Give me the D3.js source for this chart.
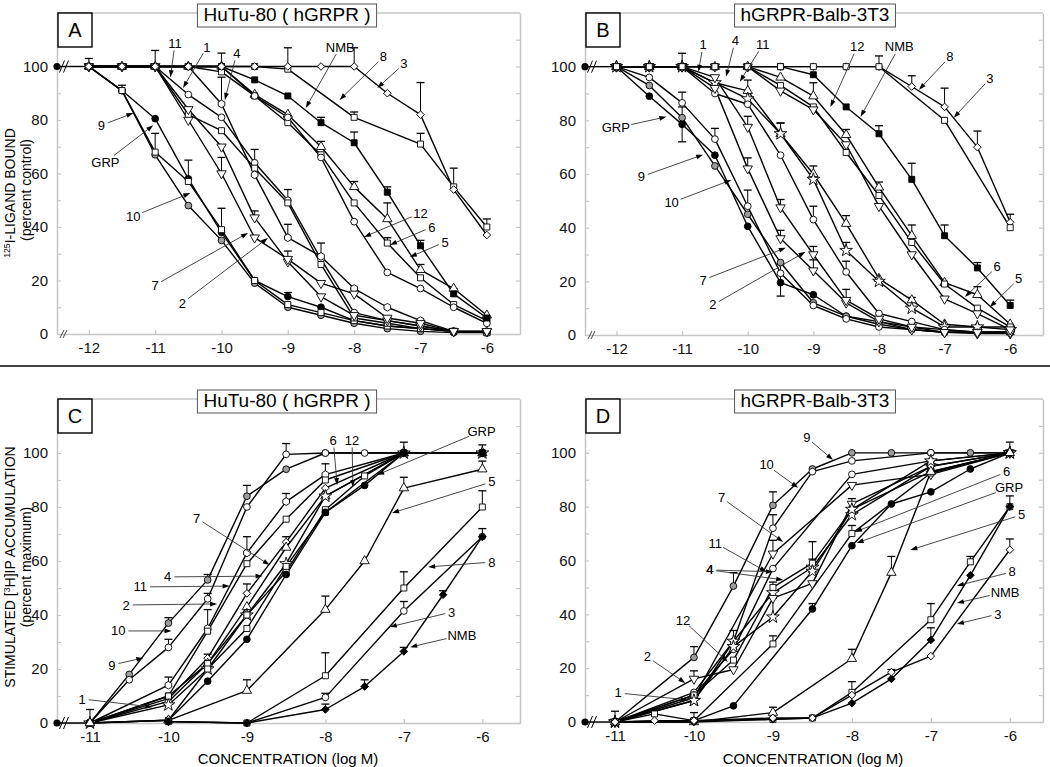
<!DOCTYPE html>
<html>
<head>
<meta charset="utf-8">
<script src="https://cdn.jsdelivr.net/npm/d3@7/dist/d3.min.js"></script>
<style>
html,body{margin:0;padding:0;background:#fff;}
svg{display:block;}
</style>
</head>
<body>
<svg id="chart" width="1050" height="767"></svg>
<script>
// ---------------- DATA ----------------
const concBinding = [-12,-11.5,-11,-10.5,-10,-9.5,-9,-8.5,-8,-7.5,-7,-6.5,-6];
const concIP = [-11,-10.5,-10,-9.5,-9,-8.5,-8,-7.5,-7,-6.5,-6];
const xTicksBinding = [-12,-11,-10,-9,-8,-7,-6];
const xTicksIP = [-11,-10,-9,-8,-7,-6];
const yTickLabels = [0,20,40,60,80,100];
const controlBinding = 100;
const controlIP = 0;

// Panel A : HuTu-80 binding
const namesA = ["GRP","9","10","1","11","4","2","7","12","6","5","NMB","8","3"];
const valuesA = [
 [100,91,80.5,58,38,20,14,10,5,3,2,1,1],
 [100,91,67,48,35,19,10,7,4,2,1,0.5,0.5],
 [100,91,68,57,39,20,11,8,5,3,2,1,0.5],
 [100,100,100,89.5,81,64,50,28,8,5,3,1,0.5],
 [100,100,100,82,76,62,49,26,6,4,2,1,0.5],
 [100,100,100,100,86,59.5,36,29,17,10,5,1,1],
 [100,100,100,84,70,43.5,27,14,7,5,3,1,1],
 [100,100,100,80,60,36,28,19,15,6,4,1,1],
 [100,100,100,100,100,89.5,82,70,55,43,24,17,7],
 [100,100,100,100,98,89,79,67,49,34,21,11,5],
 [100,100,100,100,100,89,81,66,42,23,17,10,4],
 [100,100,100,100,100,95,89,79,71.5,53,33,15,6],
 [100,100,100,100,100,100,99,null,81,null,71,55,40],
 [100,100,100,100,100,100,100,100,100,90,82,54,37]
];
const errorsA = [
 ["GRP",-12,3],["9",-11.5,2],["11",-11,6],["9",-11,8],["10",-10.5,8],["4",-10,10],["NMB",-10,5],["10",-10,8],["7",-10,6],
 ["1",-9.5,5],["2",-9.5,2.5],["1",-9,4],["4",-9,5],["7",-9,3],["GRP",-9,1.5],["3",-9,7],["4",-8.5,5],["12",-8.5,2],["NMB",-8.5,2],
 ["3",-8,7],["8",-8,2],["12",-8,2],["NMB",-8,4],["7",-8,2],["12",-7.5,6],["NMB",-7.5,2],["6",-7.5,2],["3",-7,12],["8",-7,4],
 ["NMB",-7,2],["12",-7,2],["8",-6.5,7],["NMB",-6.5,2],["8",-6,3]
];
const labelsA = [
 ["11",-10.70,108.8,-10.77,96],["1",-10.22,107.3,-10.58,92],["4",-9.77,105,-9.95,87.5],
 ["NMB",-8.21,107.3,-8.73,84.5],["8",-7.56,103.6,-8.22,87.5],["3",-7.25,101,-7.65,92],
 ["9",-11.81,78,-11.33,82.6],["GRP",-11.75,64.3,-11.03,78],["10",-11.33,44,-10.47,52.7],
 ["7",-11.0,18.3,-9.6,37.8],["2",-10.59,11.6,-9.3,35.9],["12",-7.0,45.2,-7.85,36.3],
 ["6",-6.83,40,-7.46,33.3],["5",-6.63,34.4,-7.16,28.8]
];

// Panel B : hGRPR-Balb-3T3 binding
const namesB = ["GRP","9","10","1","4","11","7","2","12","6","5","NMB","3","8"];
const valuesB = [
 [100,89,78.5,67,40.5,19.5,15,7,5,3,2,1,1],
 [100,93,81,63,45,27,12,7,4,2,1,1,1],
 [100,96,86.5,73,48,23,11,6,3,2,1,1,1],
 [100,100,100,94,91,75,60,41.5,21,13,4,3,3],
 [100,100,100,94,88,75,58,31.5,20,10,3,3,2],
 [100,100,100,90,86,67,43,23.5,8,5,2,1,1],
 [100,100,100,92,62,36,24,12,5,2,1,0.5,0.5],
 [100,100,100,96,77.5,47.5,30,13,6,3,1,1,1],
 [100,100,100,100,100,96,89,74.6,55,37,19.5,15,4],
 [100,100,100,100,100,93,85,68,52,34.5,19,10,3],
 [100,100,100,100,100,91,84,71,48,30,13.5,8,2],
 [100,100,100,100,100,100,97,85,75,58,37,25,11],
 [100,100,100,100,100,100,100,100,100,92.6,85,70,42],
 [100,100,100,100,100,100,100,100,100,null,80,null,40]
];
const errorsB = [
 ["10",-11,4],["GRP",-11,6.5,6.5],["1",-11,5],["10",-10.5,4],["10",-10,6],["2",-10,4],["7",-10,4],["1",-10,4],
 ["1",-9.5,4],["4",-9.5,4],["2",-9.5,3],["7",-9.5,3],["GRP",-9.5,7,5],["1",-9,3],["11",-9,5],["2",-9,3],["7",-9,4],
 ["12",-9,5],["12",-8.5,2],["1",-8.5,3],["4",-8.5,3],["11",-8.5,4],["7",-8.5,5],["12",-8,2],["NMB",-8,3],["3",-8,4],
 ["NMB",-7.5,6],["12",-7.5,4],["4",-7.5,4],["3",-7.5,4],["NMB",-7,4],["3",-7,7],["3",-6.5,6],["NMB",-6.5,2],
 ["12",-6.5,3],["3",-6,3],["NMB",-6,2]
];
const labelsB = [
 ["1",-10.68,108.2,-10.75,98.1],["4",-10.19,109.7,-10.33,96.3],["11",-9.77,108.2,-10.12,94.4],
 ["12",-8.33,107.5,-8.74,85],["NMB",-7.69,107.5,-8.28,81.3],["8",-6.92,103.7,-7.39,91.4],
 ["3",-6.31,95.5,-6.86,81],["GRP",-12.01,77.2,-11.24,81.3],["9",-11.62,59,-10.68,67.2],
 ["10",-11.16,49.3,-10.25,57.8],["7",-10.68,20.5,-9.42,32.5],["2",-10.53,11.2,-9.12,31],
 ["6",-6.2,25.4,-6.69,14.2],["5",-5.87,20.9,-6.31,10.4]
];

// Panel C : HuTu-80 IP accumulation
const namesC = ["9","10","2","11","4","7","1","12","6","GRP","5","8","3","NMB"];
const valuesC = [
 [0,18,37,53,84,94,100,null,100,null,100],
 [0,16,28,46,80,99.5,100,100,100,null,100],
 [0,null,14,35,63,82,92,null,100,null,100],
 [0,null,10,34,59,75.5,90,null,100,null,100],
 [0,null,9,24,48,67,87,null,100,null,100],
 [0,null,8,22,43,65,84,null,100,null,100],
 [0,null,6.7,20,40,59,84,null,100,null,100],
 [0,null,10,22,40,56,79,91.5,100,null,100],
 [0,null,1,20,35,58,78,null,100,null,100],
 [0,null,1,15.5,31,55,78,88,100,null,100],
 [0,null,1,null,12,null,42,60,87,null,94],
 [null,null,0.5,null,0,null,17.5,null,50,null,80],
 [null,null,0.5,null,0,null,9.5,null,41.5,null,69],
 [null,null,0.5,null,0,null,5,13.5,26.5,47.5,69]
];
const errorsC = [
 ["1",-11,5],["9",-10,2],["10",-10,3],["2",-10,3],["9",-9.5,2],["10",-9.5,2],["2",-9.5,7],["4",-9.5,1.5],["9",-9,4],
 ["2",-9,6],["4",-9,3.5],["5",-9,4],["10",-8.5,4],["2",-8.5,3],["4",-8.5,2],["2",-8,4],["5",-8,5],["8",-8,8.5],["3",-8,1.5],
 ["NMB",-8,2],["NMB",-7.5,2.5],["9",-7,4],["5",-7,4],["8",-7,6],["3",-7,3.5],["NMB",-7,1.5],["NMB",-6.5,1.5],["9",-6,3],
 ["5",-6,3],["8",-6,6],["3",-6,3]
];
const labelsC = [
 ["6",-7.90,104.8,-7.85,88.1],["12",-7.66,104.8,-7.65,87.4],["GRP",-6.01,108.1,-7.34,91.9],
 ["5",-5.88,89.3,-7.15,77.8],["8",-5.88,59.6,-6.69,57.8],["3",-6.39,41.1,-7.18,35.6],
 ["NMB",-6.26,32.6,-6.92,28.1],["7",-9.64,75.9,-8.71,58.5],["4",-10.01,54.1,-8.80,54.4],
 ["11",-10.36,50.4,-9.22,50.7],["2",-10.54,43.7,-9.38,44.1],["10",-10.64,34.1,-9.96,34.1],
 ["9",-10.72,21.5,-10.32,24.1],["1",-11.10,8.9,-10.20,5.9]
];

// Panel D : hGRPR-Balb-3T3 IP accumulation
const namesD = ["9","10","7","11","4","12","2","1","6","GRP","5","8","NMB","3"];
const valuesD = [
 [0,null,24,50.5,80.5,94,100,100,100,100,100],
 [0,null,11,30,72,93,97,null,100,null,100],
 [0,null,9,null,62.5,null,88,null,92,null,100],
 [0,null,10,27,57,null,92,null,97,null,100],
 [0,null,8,30,48,57.5,77,null,95,null,100],
 [0,null,10,23,50,59,79,null,93,null,100],
 [0,null,16,19.5,46,51.5,81,null,95,null,100],
 [0,null,8,28,39,56,79,null,97,null,100],
 [0,null,0.5,null,29,null,70,null,92.5,null,100],
 [0,null,0.5,6,null,42,65.5,81,85.5,94,100],
 [0,null,0,null,3.5,null,23.5,55.5,93,null,100],
 [0,3,0.5,null,1,1.5,11,null,38,59.5,80],
 [0,null,0,null,1,1.5,7,16,30.5,54.5,80],
 [0,0.5,0.5,null,1.5,1.5,10,18.5,24.5,null,64]
];
const errorsD = [
 ["9",-11,4],["8",-10.5,2],["9",-10,4],["2",-10,3],["6",-10,3],["9",-9.5,5],["4",-9.5,4],["9",-9,5],["10",-9,5],["7",-9,5],
 ["12",-9,2],["1",-9,7],["6",-9,3],["5",-9,2],["12",-8.5,8],["4",-8.5,3],["GRP",-8.5,2],["2",-8,2],["6",-8,3],["5",-8,3.5],
 ["8",-8,4],["5",-7.5,6],["3",-7.5,1],["8",-7,6],["NMB",-7,4.5],["7",-7,3],["8",-6.5,2],["9",-6,4],["8",-6,4],["3",-6,4]
];
const labelsD = [
 ["9",-8.57,105.6,-8.24,97.4],["10",-9.08,95.5,-8.68,87],["7",-9.65,83.3,-8.87,66.9],
 ["11",-9.73,66.5,-9.08,55.8],["4",-9.80,56.5,-9.0,55.8],["4",-9.80,56.5,-8.87,52.8],
 ["12",-10.14,37.9,-9.57,22.3],["2",-10.59,24.2,-10.11,14.5],["1",-10.96,10.8,-10.08,8.2],
 ["6",-6.04,92.9,-7.96,70.6],["GRP",-6.01,87,-7.94,66.5],["5",-5.85,77,-7.26,63.9],
 ["8",-5.97,55.8,-6.67,50.6],["NMB",-6.06,48.3,-6.67,44.2],["3",-6.15,40.1,-6.67,36.4]
];

// ---------------- STYLE (marker shapes / fills) ----------------
const shapesA = ["circle","circle","square","circle","square","hex","tridown","tridown","triangle","square","circle","square","square","diamond"];
const fillsA  = ["k","g","w","w","w","w","w","w","w","w","w","k","w","w"];
const shapesB = ["circle","circle","circle","triangle","star","circle","tridown","tridown","triangle","square","tridown","square","diamond","square"];
const fillsB  = ["k","g","w","w","w","w","w","w","w","w","w","k","w","w"];
const shapesC = ["circle","circle","hex","square","diamond","triangle","star","square","square","circle","triangle","square","circle","diamond"];
const fillsC  = ["g","w","w","w","w","w","w","w","w","k","w","w","w","k"];
const shapesD = ["circle","circle","tridown","circle","star","square","tridown","star","square","circle","triangle","square","diamond","diamond"];
const fillsD  = ["g","w","w","w","w","w","w","w","w","k","w","w","k","w"];

// ---------------- DRAW ----------------
const FONT = '"Liberation Sans", Arial, Helvetica, sans-serif';
const GREY = '#c6c6c6';
const FILL = {k:'#000', g:'#9c9c9c', w:'#fff'};
const svg = d3.select('#chart');
svg.append('rect').attr('width',1050).attr('height',767).attr('fill','#fff');

const hexSymbol = {draw(ctx,size){const r=Math.sqrt(size/2.598);for(let i=0;i<6;i++){const a=Math.PI/3*i+Math.PI/6;const px=r*Math.cos(a),py=r*Math.sin(a);if(i)ctx.lineTo(px,py);else ctx.moveTo(px,py);}ctx.closePath();}};
const SYM = {
  circle:[d3.symbolCircle,36,0], square:[d3.symbolSquare,36,0], triangle:[d3.symbolTriangle,38,0],
  tridown:[d3.symbolTriangle,38,180], diamond:[d3.symbolSquare,29,45], star:[d3.symbolStar,50,0], hex:[hexSymbol,38,0]
};

const panels = [
 {letter:'A', title:'HuTu-80 ( hGRPR )', x0:57, x1:520, y0:334, y1:13, xDomain:[-12.48,-5.5], conc:concBinding, xTicks:xTicksBinding,
  names:namesA, values:valuesA, shapes:shapesA, fills:fillsA, errors:errorsA, labels:labelsA, control:controlBinding},
 {letter:'B', title:'hGRPR-Balb-3T3', x0:585, x1:1043, y0:335, y1:13, xDomain:[-12.48,-5.5], conc:concBinding, xTicks:xTicksBinding,
  names:namesB, values:valuesB, shapes:shapesB, fills:fillsB, errors:errorsB, labels:labelsB, control:controlBinding},
 {letter:'C', title:'HuTu-80 ( hGRPR )', x0:57, x1:520, y0:723, y1:399, xDomain:[-11.42,-5.52], conc:concIP, xTicks:xTicksIP,
  names:namesC, values:valuesC, shapes:shapesC, fills:fillsC, errors:errorsC, labels:labelsC, control:controlIP},
 {letter:'D', title:'hGRPR-Balb-3T3', x0:585, x1:1043, y0:722, y1:399, xDomain:[-11.38,-5.58], conc:concIP, xTicks:xTicksIP,
  names:namesD, values:valuesD, shapes:shapesD, fills:fillsD, errors:errorsD, labels:labelsD, control:controlIP}
];

function styleAxis(sel){
  sel.select('.domain').attr('stroke',GREY).attr('stroke-width',1.5);
  sel.selectAll('.tick line').attr('stroke',GREY).attr('stroke-width',1.2);
  sel.selectAll('text').attr('font-family',FONT).attr('font-size',15).attr('fill','#111');
}

panels.forEach(p=>{
  const g = svg.append('g');
  const x = d3.scaleLinear().domain(p.xDomain).range([p.x0,p.x1]);
  const y = d3.scaleLinear().domain([0,120]).range([p.y0,p.y1]);

  g.append('line').attr('x1',p.x0).attr('x2',p.x1).attr('y1',p.y1).attr('y2',p.y1).attr('stroke',GREY).attr('stroke-width',1.5);
  const gl = g.append('g').attr('transform',`translate(${p.x0},0)`)
    .call(d3.axisLeft(y).tickValues(d3.range(0,111,10)).tickSizeInner(-4).tickSizeOuter(0).tickPadding(9)
      .tickFormat(v=> yTickLabels.includes(v) ? v : ''));
  styleAxis(gl);
  const gr = g.append('g').attr('transform',`translate(${p.x1},0)`)
    .call(d3.axisRight(y).tickValues(d3.range(0,111,10)).tickSizeInner(-4).tickSizeOuter(0).tickFormat(''));
  styleAxis(gr);
  const gb = g.append('g').attr('transform',`translate(0,${p.y0})`)
    .call(d3.axisBottom(x).tickValues(p.xTicks).tickSizeInner(-4).tickSizeOuter(0).tickPadding(8).tickFormat(d3.format('d')));
  styleAxis(gb);
  gb.selectAll('text').text(d=> String(d));

  g.append('line').attr('x1',p.x0).attr('x2',x(p.conc[0])).attr('y1',y(p.control)).attr('y2',y(p.control))
    .attr('stroke','#000').attr('stroke-width',1.4);

  const line = d3.line().x(d=>x(d[0])).y(d=>y(d[1]));
  const seriesPts = p.values.map(vals => p.conc.map((c,i)=>[c,vals[i]]));
  seriesPts.forEach(pts=>{
    const clean = pts.filter(d=>d[1]!=null);
    g.append('path').attr('d',line(clean)).attr('fill','none').attr('stroke','#000').attr('stroke-width',1.4).attr('stroke-linejoin','round');
  });
  p.errors.forEach(e=>{
    const si = p.names.indexOf(e[0]); const ci = p.conc.indexOf(e[1]);
    if(si<0||ci<0) return; const v = p.values[si][ci]; if(v==null) return;
    const cx = x(e[1]);
    const top = y(v+e[2]);
    g.append('line').attr('x1',cx).attr('x2',cx).attr('y1',y(v)).attr('y2',top).attr('stroke','#000').attr('stroke-width',1);
    g.append('line').attr('x1',cx-4).attr('x2',cx+4).attr('y1',top).attr('y2',top).attr('stroke','#000').attr('stroke-width',1.3);
    if(e[3]){
      const bot = y(v-e[3]);
      g.append('line').attr('x1',cx).attr('x2',cx).attr('y1',y(v)).attr('y2',bot).attr('stroke','#000').attr('stroke-width',1);
      g.append('line').attr('x1',cx-4).attr('x2',cx+4).attr('y1',bot).attr('y2',bot).attr('stroke','#000').attr('stroke-width',1.3);
    }
  });
  seriesPts.forEach((pts,si)=>{
    const [type,size,rot] = SYM[p.shapes[si]];
    const path = d3.symbol().type(type).size(size)();
    pts.filter(d=>d[1]!=null).forEach(d=>{
      g.append('path').attr('d',path)
        .attr('transform',`translate(${x(d[0])},${y(d[1])}) rotate(${rot})`)
        .attr('fill',FILL[p.fills[si]]).attr('stroke','#000').attr('stroke-width',0.9);
    });
  });

  g.append('circle').attr('cx',p.x0).attr('cy',y(p.control)).attr('r',3.6).attr('fill','#000');
  const cy = y(p.control);
  [5,9].forEach(o=>{
    g.append('line').attr('x1',p.x0+o-2.5).attr('x2',p.x0+o+2.5).attr('y1',cy+6).attr('y2',cy-6).attr('stroke','#000').attr('stroke-width',1);
  });
  if(p.control!==0){
    [5,8].forEach(o=>{
      g.append('line').attr('x1',p.x0+o-2).attr('x2',p.x0+o+2).attr('y1',p.y0+4).attr('y2',p.y0-4).attr('stroke','#333').attr('stroke-width',0.9);
    });
  }

  p.labels.forEach(([t,lx,ly,tx,ty])=>{
    const X=x(lx), Y=y(ly), TX=x(tx), TY=y(ty);
    const txt = g.append('text').attr('x',X).attr('y',Y).attr('dy','0.35em').attr('text-anchor','middle')
      .attr('font-family',FONT).attr('font-size',13).attr('fill','#000').text(t);
    const w = txt.node().getComputedTextLength();
    const hw = w/2+3, hh = 7.5;
    const dx=TX-X, dy=TY-Y;
    const k = 1/Math.sqrt((dx/hw)**2+(dy/hh)**2);
    const sx=X+dx*k, sy=Y+dy*k;
    const len=Math.hypot(dx,dy), ux=dx/len, uy=dy/len;
    g.append('line').attr('x1',sx).attr('y1',sy).attr('x2',TX-ux*4).attr('y2',TY-uy*4)
      .attr('stroke','#333').attr('stroke-width',0.9);
    g.append('path').attr('d',`M${TX},${TY}L${TX-ux*7-uy*2.4},${TY-uy*7+ux*2.4}L${TX-ux*7+uy*2.4},${TY-uy*7-ux*2.4}Z`).attr('fill','#000');
  });

  g.append('rect').attr('x',p.x0+1).attr('y',p.y1).attr('width',34).attr('height',34)
    .attr('fill','#fff').attr('stroke','#000').attr('stroke-width',1.4);
  g.append('text').attr('x',p.x0+18).attr('y',p.y1+17).attr('dy','0.36em').attr('text-anchor','middle')
    .attr('font-family',FONT).attr('font-size',20).text(p.letter);

  const tcx = p.x0+230;
  const tt = g.append('text').attr('x',tcx).attr('y',p.y1+2).attr('dy','0.33em').attr('text-anchor','middle')
    .attr('font-family',FONT).attr('font-size',19).text(p.title);
  const tw = tt.node().getComputedTextLength();
  g.insert('rect', function(){return tt.node();}).attr('x',tcx-tw/2-6).attr('y',p.y1-9).attr('width',tw+12).attr('height',23)
    .attr('fill','#fff').attr('stroke','#555').attr('stroke-width',1);
});

svg.append('line').attr('x1',0).attr('x2',1050).attr('y1',366).attr('y2',366).attr('stroke','#000').attr('stroke-width',1.5);

function vText(xp, yc, parts, size){
  const t = svg.append('text').attr('transform',`translate(${xp},${yc}) rotate(-90)`).attr('text-anchor','middle')
    .attr('font-family',FONT).attr('font-size',size).attr('fill','#000');
  parts.forEach(([s,sup])=>{
    const ts = t.append('tspan').text(s);
    if(sup) ts.attr('font-size',size*0.62).attr('baseline-shift','super');
  });
}
vText(15,193,[["125",true],["I-LIGAND BOUND",false]],14);
vText(31,190,[["(percent control)",false]],14);
vText(15,567,[["STIMULATED [",false],["3",true],["H]IP ACCUMULATION",false]],14);
vText(31,567,[["(percent maximum)",false]],14);
[288,813].forEach(cx=>{
  svg.append('text').attr('x',cx).attr('y',764).attr('text-anchor','middle').attr('font-family',FONT).attr('font-size',15)
    .text('CONCENTRATION (log M)');
});
</script>
</body>
</html>
